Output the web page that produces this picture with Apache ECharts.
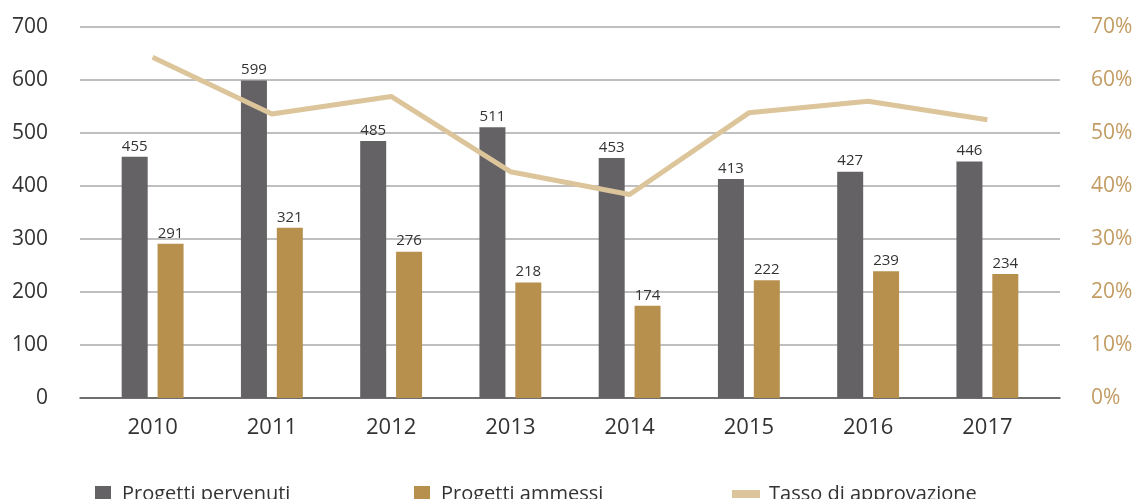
<!DOCTYPE html>
<html>
<head>
<meta charset="utf-8">
<script src="https://cdn.jsdelivr.net/npm/echarts@6/dist/echarts.min.js"></script>
<style>
  html, body { margin: 0; padding: 0; background: #fff; }
  #chart { width: 1137px; height: 499px; }
</style>
</head>
<body>
<div id="chart"></div>
<script>
// dati
const years = ["2010", "2011", "2012", "2013", "2014", "2015", "2016", "2017"];
const pervenuti = [455, 599, 485, 511, 453, 413, 427, 446];
const ammessi = [291, 321, 276, 218, 174, 222, 239, 234];
const tasso = [64.3, 53.6, 56.9, 42.7, 38.4, 53.8, 56.0, 52.5];

const font = "Open Sans";
const gray = "#646265";
const gold = "#b8904e";
const tan = "#dcc59a";

const chart = echarts.init(document.getElementById("chart"));

const option = {
  textStyle: { fontFamily: font },
  animation: false,
  // grid 0: solo assi e linee di griglia (piu larga), grid 1: serie
  grid: [
    { left: 80, right: 77, top: 27, bottom: 101 },
    { left: 93, right: 90, top: 27, bottom: 101 },
  ],
  legend: [
    {
      data: ["Progetti pervenuti"], left: 90, top: 479, itemWidth: 16, itemHeight: 16,
      textStyle: { fontSize: 20, color: "#333", padding: [0, 0, 0, 6] }, icon: "rect",
    },
    {
      data: ["Progetti ammessi"], left: 409, top: 479, itemWidth: 16, itemHeight: 16,
      textStyle: { fontSize: 20, color: "#333", padding: [0, 0, 0, 6] }, icon: "rect",
    },
    {
      data: ["Tasso di approvazione"], left: 727, top: 479, itemWidth: 28, itemHeight: 8,
      textStyle: { fontSize: 20, color: "#333", padding: [0, 0, 0, 4] }, icon: "rect",
    },
  ],
  xAxis: [
    {
      gridIndex: 0, type: "category", data: years,
      axisLine: { show: true, lineStyle: { color: "#555", width: 1.5 } },
      axisTick: { show: false }, axisLabel: { show: false },
    },
    {
      gridIndex: 1, type: "category", data: years,
      axisLine: { show: false }, axisTick: { show: false },
      axisLabel: { fontSize: 22, color: "#333", margin: 19 },
    },
  ],
  yAxis: [
    {
      gridIndex: 0, type: "value", min: 0, max: 700, interval: 100,
      axisLine: { show: false }, axisTick: { show: false },
      axisLabel: { fontSize: 21, color: "#333", margin: 32 },
      splitLine: { lineStyle: { color: "#aaa", width: 1.5 } },
    },
    {
      gridIndex: 0, type: "value", position: "right", min: 0, max: 70, interval: 10,
      axisLine: { show: false }, axisTick: { show: false },
      axisLabel: { fontSize: 21, color: "#c29c62", margin: 31, formatter: "{value}%" },
      splitLine: { show: false },
    },
    { gridIndex: 1, type: "value", min: 0, max: 700, show: false },
    { gridIndex: 1, type: "value", min: 0, max: 70, show: false, position: "right" },
  ],
  series: [
    {
      name: "Progetti pervenuti", type: "bar", xAxisIndex: 1, yAxisIndex: 2,
      data: pervenuti, barWidth: 26, barGap: "38%", itemStyle: { color: gray },
      label: { show: true, position: "top", fontSize: 15, color: "#333", distance: 3 },
    },
    {
      name: "Progetti ammessi", type: "bar", xAxisIndex: 1, yAxisIndex: 2,
      data: ammessi, barWidth: 26, itemStyle: { color: gold },
      label: { show: true, position: "top", fontSize: 15, color: "#333", distance: 3 },
    },
    {
      name: "Tasso di approvazione", type: "line", xAxisIndex: 1, yAxisIndex: 3,
      data: tasso, symbol: "none", itemStyle: { color: tan },
      lineStyle: { color: tan, width: 5 }, z: 5,
    },
  ],
};

chart.setOption(option);
</script>
</body>
</html>
